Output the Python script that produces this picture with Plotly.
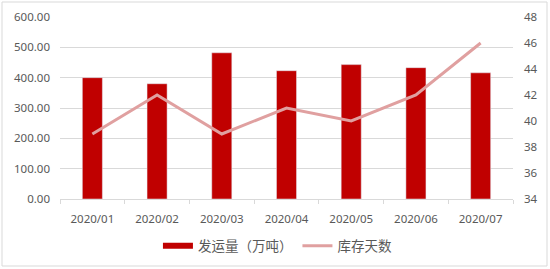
import plotly.graph_objects as go

months = ["2020/01", "2020/02", "2020/03", "2020/04", "2020/05", "2020/06", "2020/07"]
shipments = [400, 380, 482, 423, 443, 433, 416]
inventory_days = [39, 42, 39, 41, 40, 42, 46]

bar_color = "#C00000"
line_color = "#E0A0A0"
text_color = "#595959"
font_family = "Noto Sans, Noto Sans CJK SC"

fig = go.Figure()
fig.add_trace(go.Bar(x=months, y=shipments, name="发运量（万吨）", marker_color=bar_color,
                     showlegend=False, yaxis="y"))
# legend swatch for bars (wide flat bar look)
fig.add_trace(go.Scatter(x=[None], y=[None], mode="lines", name="发运量（万吨）",
                         line=dict(color=bar_color, width=6), yaxis="y", showlegend=True))
fig.add_trace(go.Scatter(x=months, y=inventory_days, mode="lines", name="库存天数",
                         line=dict(color=line_color, width=3), yaxis="y2"))

W, H = 550, 269
l, r, t, b = 60, 37, 17, 70
pw, ph = W - l - r, H - t - b

def px_x(p):
    return (p - l) / pw

def px_y(p):
    return (H - b - p) / ph

fig.update_layout(
    width=W, height=H,
    margin=dict(l=l, r=r, t=t, b=b, autoexpand=False),
    paper_bgcolor="white", plot_bgcolor="white",
    font=dict(family=font_family, size=11, color=text_color),
    bargap=0.69,
    xaxis=dict(type="category", showgrid=False, showline=True, linecolor="#D9D9D9", linewidth=1,
               ticks="outside", tickson="boundaries", ticklen=4, tickcolor="#D9D9D9",
               tickfont=dict(size=11.5, color=text_color), ticklabelstandoff=9, automargin=False),
    yaxis=dict(range=[0, 600], dtick=100, tickformat=".2f", showgrid=True, gridcolor="#D9D9D9",
               gridwidth=1, zeroline=False, showline=False, ticks="",
               tickfont=dict(size=11.5, color=text_color), ticklabelstandoff=9, automargin=False),
    yaxis2=dict(range=[34, 48], dtick=2, overlaying="y", side="right", showgrid=False,
                zeroline=False, showline=False, ticks="",
                tickfont=dict(size=11.5, color=text_color), ticklabelstandoff=10, automargin=False),
    legend=dict(orientation="h", x=0.48, xanchor="center", y=px_y(246), yanchor="middle",
                font=dict(size=13.5, color=text_color), bgcolor="rgba(0,0,0,0)",
                itemwidth=30, traceorder="normal"),
    shapes=[dict(type="rect", xref="paper", yref="paper",
                 x0=px_x(2), x1=px_x(547), y0=px_y(266), y1=px_y(2),
                 line=dict(color="#D9D9D9", width=1), fillcolor="rgba(0,0,0,0)", layer="below")],
)

fig.write_html("out.html")
